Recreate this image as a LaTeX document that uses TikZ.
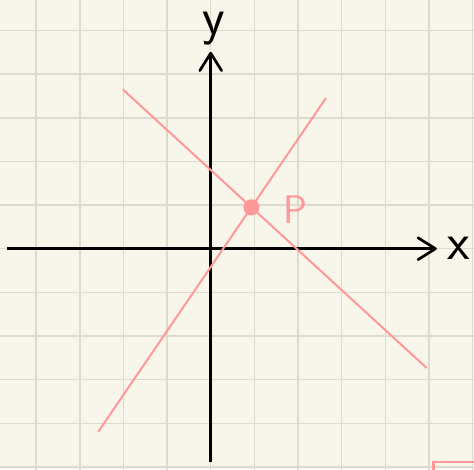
\documentclass[tikz,border=0pt]{standalone}
\usepackage{tikz}
\usetikzlibrary{arrows.meta,positioning}
\definecolor{paper}{RGB}{248,246,234}
\definecolor{gridc}{RGB}{221,219,206}
\definecolor{pinkc}{RGB}{255,153,153}
\tikzset{
  gridln/.style={gridc,line width=1pt},
  axis/.style  ={line width=1.75pt,-{Straight Barb[length=4mm,width=5mm,round]}},
  pinkln/.style={pinkc,line width=1.3pt},
  dotP/.style  ={circle,fill=pinkc,minimum size=3.7mm,inner sep=0pt},
  axlab/.style ={font=\sffamily\fontsize{34}{34}\selectfont,inner sep=0pt},
  plab/.style  ={text=pinkc,font=\sffamily\fontsize{26}{26}\selectfont,inner sep=0pt},
}

\begin{document}
\begin{tikzpicture}
  % paper
  \clip (-4.827,-5.047) rectangle (6.032,5.698);
  \fill[paper] (-4.827,-5.047) rectangle (6.032,5.698);
  \draw[gridln] (-5,-6) grid (7,6);
  % axes
  \coordinate (xa) at (-4.66,0);
  \coordinate (xb) at (5.18,0);
  \coordinate (ya) at (0,-4.89);
  \coordinate (yb) at (0,4.51);
  \draw[axis] (xa) -- (xb);
  \draw[axis] (ya) -- (yb);
  \node[axlab] (xl) at (5.69,0.02){x};
  \node[axlab,anchor=north] (yl) at (0.06,5.42){y};
  % the two lines and their meeting point
  \coordinate (a1) at (-2.016,3.652);
  \coordinate (a2) at (4.948,-2.733);
  \coordinate (b1) at (-2.575,-4.192);
  \coordinate (b2) at (2.641,3.452);
  \draw[pinkln] (a1) -- (a2);
  \draw[pinkln] (b1) -- (b2);
  \node[dotP] (P) at (0.933,0.948){};
  \node[plab] (Pl) at (1.95,0.9){P};
  % corner box
  \draw[pinkc,line width=1.6pt] (5.10,-4.887) rectangle (7,-7);
\end{tikzpicture}
\end{document}
